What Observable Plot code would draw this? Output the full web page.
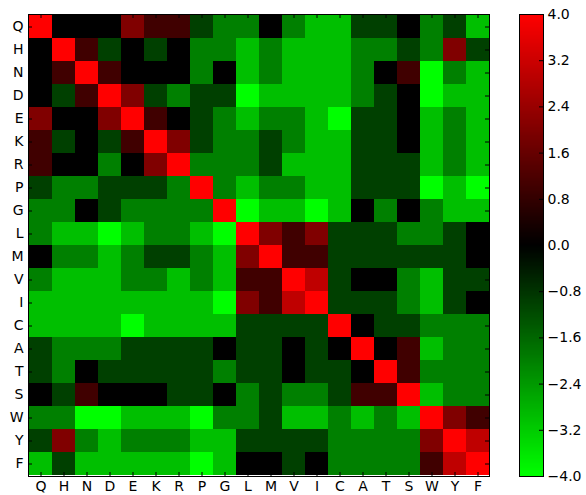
<!DOCTYPE html>
<html><head><meta charset="utf-8">
<script src="https://cdn.jsdelivr.net/npm/d3@7"></script>
<script src="https://cdn.jsdelivr.net/npm/@observablehq/plot@0.6"></script>
<style>
body{margin:0;background:#fff;}
#wrap{position:relative;width:586px;height:495px;font-family:"DejaVu Sans",sans-serif;}
#wrap svg{position:absolute;top:0;}
</style></head><body><div id="wrap"></div>
<script>
// Residue order (rows top→bottom, columns left→right)
const residues = ["Q","H","N","D","E","K","R","P","G","L","M","V","I","C","A","T","S","W","Y","F"];

// Matrix rows (range -4..4)
const rowQ = [ 4, 0, 0, 0, 2, 1, 1,-1,-2,-2, 0,-2,-3,-3,-1,-1, 0,-2,-1,-3];
const rowH = [ 0, 4, 1,-1, 0,-1, 0,-2,-2,-3,-2,-3,-3,-3,-2,-2,-1,-2, 2,-1];
const rowN = [ 0, 1, 4, 1, 0, 0, 0,-2, 0,-3,-2,-3,-3,-3,-2, 0, 1,-4,-2,-3];
const rowD = [ 0,-1, 1, 4, 2,-1,-2,-1,-1,-4,-3,-3,-3,-3,-2,-1, 0,-4,-3,-3];
const rowE = [ 2, 0, 0, 2, 4, 1, 0,-1,-2,-3,-2,-2,-3,-4,-1,-1, 0,-3,-2,-3];
const rowK = [ 1,-1, 0,-1, 1, 4, 2,-1,-2,-2,-1,-2,-3,-3,-1,-1, 0,-3,-2,-3];
const rowR = [ 1, 0, 0,-2, 0, 2, 4,-2,-2,-2,-1,-3,-3,-3,-1,-1,-1,-3,-2,-3];
const rowP = [-1,-2,-2,-1,-1,-1,-2, 4,-2,-3,-2,-2,-3,-3,-1,-1,-1,-4,-3,-4];
const rowG = [-2,-2, 0,-1,-2,-2,-2,-2, 4,-4,-3,-3,-4,-3, 0,-2, 0,-2,-3,-3];
const rowL = [-2,-3,-3,-4,-3,-2,-2,-3,-4, 4, 2, 1, 2,-1,-1,-1,-2,-2,-1, 0];
const rowM = [ 0,-2,-2,-3,-2,-1,-1,-2,-3, 2, 4, 1, 1,-1,-1,-1,-1,-1,-1, 0];
const rowV = [-2,-3,-3,-3,-2,-2,-3,-2,-3, 1, 1, 4, 3,-1, 0, 0,-2,-3,-1,-1];
const rowI = [-3,-3,-3,-3,-3,-3,-3,-3,-4, 2, 1, 3, 4,-1,-1,-1,-2,-3,-1, 0];
const rowC = [-3,-3,-3,-3,-4,-3,-3,-3,-3,-1,-1,-1,-1, 4, 0,-1,-1,-2,-2,-2];
const rowA = [-1,-2,-2,-2,-1,-1,-1,-1, 0,-1,-1, 0,-1, 0, 4, 0, 1,-3,-2,-2];
const rowT = [-1,-2, 0,-1,-1,-1,-1,-1,-2,-1,-1, 0,-1,-1, 0, 4, 1,-2,-2,-2];
const rowS = [ 0,-1, 1, 0, 0, 0,-1,-1, 0,-2,-1,-2,-2,-1, 1, 1, 4,-3,-2,-2];
const rowW = [-2,-2,-4,-4,-3,-3,-3,-4,-2,-2,-1,-3,-3,-2,-3,-2,-3, 4, 2, 1];
const rowY = [-1, 2,-2,-3,-2,-2,-2,-3,-3,-1,-1,-1,-1,-2,-2,-2,-2, 2, 4, 3];
const rowF = [-3,-1,-3,-3,-3,-3,-3,-4,-3, 0, 0,-1, 0,-2,-2,-2,-2, 1, 3, 4];

const matrix = [rowQ,rowH,rowN,rowD,rowE,rowK,rowR,rowP,rowG,rowL,rowM,rowV,rowI,rowC,rowA,rowT,rowS,rowW,rowY,rowF];

// Colour bar
const colorbarTicks = [-4.0,-3.2,-2.4,-1.6,-0.8,0.0,0.8,1.6,2.4,3.2,4.0];
const colorDomain = [-4, 0, 4];
const colorRange = ["#00ff00", "#000000", "#ff0000"];

const cells = [];
residues.forEach((r, i) => matrix[i].forEach((v, j) => cells.push({row: r, col: residues[j], value: v})));

const font = '"DejaVu Sans", sans-serif';
const W = 490, H = 495, mL = 28, mR = 1, mT = 14, mB = 19;
const plotW = W - mL - mR, plotH = H - mT - mB;
const tickLen = 4;
const colorOpts = {type: "linear", domain: colorDomain, range: colorRange, interpolate: "rgb", clamp: true};

const main = Plot.plot({
  width: W, height: H, marginLeft: mL, marginRight: mR, marginTop: mT, marginBottom: mB,
  style: {fontFamily: font, fontSize: "14px", background: "transparent", color: "black", overflow: "visible"},
  x: {type: "band", domain: residues, padding: 0, axis: null},
  y: {type: "band", domain: residues, padding: 0, axis: null},
  color: colorOpts,
  marks: [
    Plot.cell(cells, {x: "col", y: "row", fill: "value", inset: 0, shapeRendering: "crispEdges"}),
    Plot.axisX({anchor: "bottom", tickSize: 0, tickPadding: 5, label: null, fontSize: 14}),
    Plot.axisY({anchor: "left", tickSize: 0, tickPadding: 5, label: null, fontSize: 14}),
    Plot.tickX(residues, {x: d => d, insetTop: plotH - tickLen, stroke: "black"}),
    Plot.tickX(residues, {x: d => d, insetBottom: plotH - tickLen, stroke: "black"}),
    Plot.tickY(residues, {y: d => d, insetRight: plotW - tickLen, stroke: "black"}),
    Plot.tickY(residues, {y: d => d, insetLeft: plotW - tickLen, stroke: "black"}),
    Plot.frame({stroke: "black"})
  ]
});
main.style.left = "0px";
document.getElementById("wrap").appendChild(main);

const cbW = 67, cbBar = 24;
const cbStep = 0.02;
const cbSteps = d3.range(-4, 4, cbStep);
const fmt = d => (d < 0 ? "\u2212" : "") + Math.abs(d).toFixed(1);
const cb = Plot.plot({
  width: cbW, height: H, marginLeft: 0, marginRight: cbW - cbBar, marginTop: mT, marginBottom: mB,
  style: {fontFamily: font, fontSize: "14px", background: "transparent", color: "black", overflow: "visible"},
  x: {domain: [0, 1], axis: null},
  y: {domain: [-4, 4], axis: null},
  color: colorOpts,
  marks: [
    Plot.rect(cbSteps, {x1: 0, x2: 1, y1: d => d, y2: d => d + cbStep, fill: d => d + cbStep / 2, shapeRendering: "crispEdges"}),
    Plot.tickY(colorbarTicks, {y: d => d, insetLeft: cbBar - tickLen, stroke: "black"}),
    Plot.axisY(colorbarTicks, {anchor: "right", tickSize: 0, tickPadding: 4, tickFormat: fmt, label: null, fontSize: 14}),
    Plot.frame({stroke: "black"})
  ]
});
cb.style.left = "519px";
document.getElementById("wrap").appendChild(cb);
</script>
</body></html>
